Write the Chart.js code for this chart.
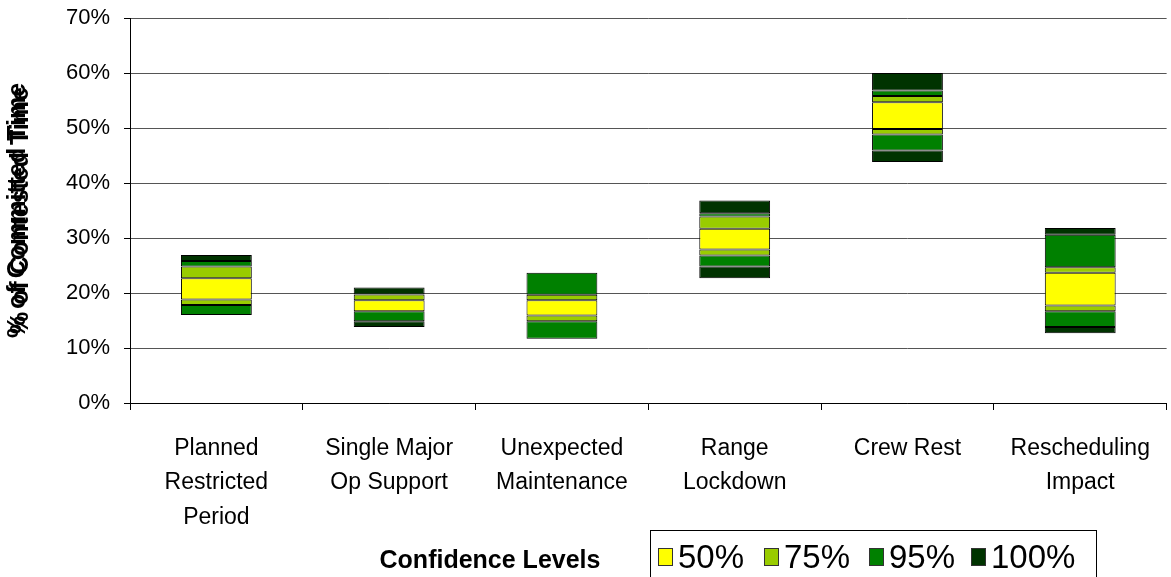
<!DOCTYPE html>
<html>
<head>
<meta charset="utf-8">
<script src="https://cdn.jsdelivr.net/npm/chart.js@4"></script>
<style>
  html, body { margin: 0; padding: 0; background: #fff; }
  #wrap { position: relative; width: 1171px; height: 577px; overflow: hidden; font-family: 'Liberation Sans', Arial, sans-serif; }
  #legendTitle { position: absolute; left: 350px; top: 545px; width: 280px; text-align: center; font-weight: bold; font-size: 25px; color: #000; }
  #legendBox { position: absolute; left: 650px; top: 530px; width: 447px; height: 60px; border: 1px solid #000; box-sizing: border-box; }
  .item { position: absolute; top: 8px; font-size: 33px; color: #000; line-height: 36px; }
  .item span.sw { position: absolute; left: 0; top: 9px; width: 15px; height: 18px; border: 1px solid #333; box-sizing: border-box; }
  .item span.tx { position: absolute; left: 20px; top: 0; white-space: nowrap; }
</style>
</head>
<body>
<div id="wrap">
  <canvas id="chart" width="1171" height="577"></canvas>
  <div id="legendTitle">Confidence Levels</div>
  <div id="legendBox"></div>
</div>
<script>
// categories
const categories = [
  ['Planned', 'Restricted', 'Period'],
  ['Single Major', 'Op Support'],
  ['Unexpected', 'Maintenance'],
  ['Range', 'Lockdown'],
  ['Crew Rest'],
  ['Rescheduling', 'Impact']
];

// band boundaries (% of time), bottom to top
const minVal = [16.0, 13.8, 11.7, 22.7, 43.8, 12.7];
const lo95   = [16.0, 14.85, 11.7, 24.8, 45.9, 13.8];
const lo75   = [17.8, 16.7, 14.85, 26.8, 48.8, 16.7];
const lo50   = [18.8, 16.7, 15.9, 27.9, 49.8, 17.75];
const hi50   = [22.7, 18.7, 18.7, 31.7, 54.7, 23.7];
const hi75   = [24.8, 19.75, 19.7, 33.9, 55.8, 24.7];
const hi95   = [25.8, 19.75, 23.7, 34.5, 56.8, 30.6];
const maxVal = [26.9, 21.0, 23.7, 36.8, 60.0, 31.8];

const yTicks = [0, 10, 20, 30, 40, 50, 60, 70];
const levels = ['50%', '75%', '95%', '100%'];
const levelColors = ['#FFFF00', '#99CC00', '#008000', '#003300'];

function band(a, b) {
  return a.map((v, i) => [v, b[i]]);
}

function ds(label, color, a, b) {
  return {
    label: label,
    data: band(a, b),
    backgroundColor: color,
    borderColor: '#000',
    borderWidth: 1,
    borderSkipped: false,
    barPercentage: 0.41,
    categoryPercentage: 1.0
  };
}

const datasets = [
  ds('100%', levelColors[3], minVal, lo95),
  ds('95%', levelColors[2], lo95, lo75),
  ds('75%', levelColors[1], lo75, lo50),
  ds('50%', levelColors[0], lo50, hi50),
  ds('75%', levelColors[1], hi50, hi75),
  ds('95%', levelColors[2], hi75, hi95),
  ds('100%', levelColors[3], hi95, maxVal)
];

const ctx = document.getElementById('chart').getContext('2d');
const chart = new Chart(ctx, {
  type: 'bar',
  data: { labels: categories, datasets: datasets },
  options: {
    responsive: false,
    animation: false,
    layout: { padding: { top: 18, right: 1, left: 0, bottom: 0 } },
    plugins: {
      legend: { display: false },
      tooltip: { enabled: false }
    },
    scales: {
      x: {
        stacked: true,
        afterFit: (s) => { s.height = 174; },
        grid: { drawOnChartArea: false, offset: true, tickLength: 7, tickColor: '#000' },
        border: { color: '#000', width: 1 },
        ticks: {
          padding: 21,
          color: '#000',
          font: { family: "'Liberation Sans', Arial, sans-serif", size: 23, lineHeight: 1.5 },
          maxRotation: 0,
          autoSkip: false
        }
      },
      y: {
        min: 0,
        max: 70,
        afterFit: (s) => { s.width = 130; s.paddingTop = 0; s.paddingBottom = 0; },
        afterBuildTicks: (s) => { s.ticks = yTicks.map(v => ({ value: v })); },
        grid: { color: '#555', tickColor: '#000', tickLength: 6 },
        border: { color: '#000', width: 1 },
        ticks: {
          padding: 14,
          color: '#000',
          font: { family: "'Liberation Sans', Arial, sans-serif", size: 22, lineHeight: 0.6 },
          callback: (v) => v + '%'
        },
        title: {
          display: true,
          text: ['% of Committed Time', '% of Contested Time'],
          color: '#000',
          padding: { top: 17, bottom: 0 },
          font: { family: "'Liberation Sans', Arial, sans-serif", size: 25, weight: 'bold', lineHeight: '3px' }
        }
      }
    }
  }
});

// legend built from the level names and colours
const box = document.getElementById('legendBox');
const xs = [7, 113, 218, 320];
levels.forEach((name, i) => {
  const it = document.createElement('div');
  it.className = 'item';
  it.style.left = xs[i] + 'px';
  it.innerHTML = '<span class="sw" style="background:' + levelColors[i] + '"></span><span class="tx">' + name + '</span>';
  box.appendChild(it);
});
</script>
</body>
</html>
